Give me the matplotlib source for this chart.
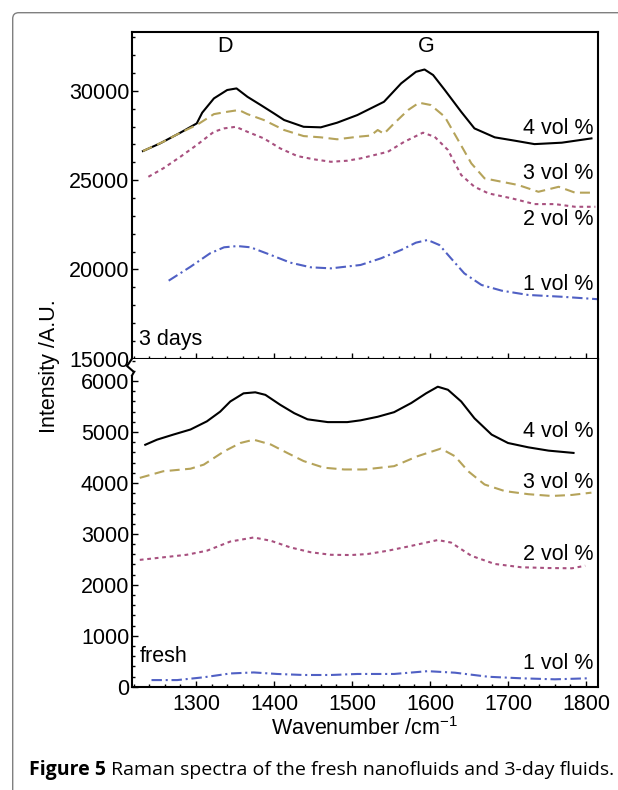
import numpy as np
import matplotlib
matplotlib.use("Agg")
import matplotlib.pyplot as plt
from matplotlib.patches import FancyBboxPatch
from matplotlib.lines import Line2D
from matplotlib.ticker import MultipleLocator

plt.rcParams['font.family'] = ['Liberation Sans', 'DejaVu Sans']
plt.rcParams['mathtext.default'] = 'regular'

# ---- 3 days (top panel) ----
d3_x4 = [1232, 1254, 1280, 1301, 1308, 1323, 1340, 1352, 1366, 1383, 1400, 1413, 1438, 1460, 1481,
         1507, 1524, 1541, 1563, 1582, 1593, 1604, 1619, 1640, 1657, 1683, 1709, 1734, 1769, 1807]
d3_y4 = [26630, 27060, 27660, 28180, 28780, 29580, 30050, 30140, 29670, 29210, 28740, 28370, 27990, 27960, 28220,
         28650, 29020, 29390, 30420, 31070, 31200, 30890, 30050, 28830, 27900, 27400, 27210, 27020, 27100, 27340]

d3_x3 = [1232, 1258, 1280, 1301, 1323, 1340, 1355, 1366, 1387, 1413, 1438, 1460, 1481, 1507, 1524,
         1533, 1541, 1554, 1572, 1586, 1601, 1619, 1636, 1653, 1670, 1692, 1713, 1739, 1765, 1786, 1812]
d3_y3 = [26630, 27150, 27660, 28090, 28700, 28830, 28930, 28700, 28370, 27810, 27470, 27400, 27290, 27430, 27500,
         27810, 27600, 28180, 28930, 29340, 29210, 28550, 27250, 25940, 25100, 24910, 24730, 24350, 24630, 24300, 24300]

d3_x2 = [1239, 1258, 1280, 1301, 1323, 1336, 1351, 1366, 1387, 1408, 1430, 1451, 1473, 1494, 1511,
         1546, 1567, 1591, 1606, 1623, 1640, 1657, 1675, 1705, 1734, 1760, 1786, 1812]
d3_y2 = [25190, 25660, 26310, 26970, 27710, 27900, 27990, 27710, 27340, 26780, 26350, 26170, 26030, 26090, 26220,
         26590, 27150, 27660, 27430, 26690, 25290, 24630, 24260, 23980, 23660, 23660, 23510, 23510]

d3_x1 = [1265, 1293, 1318, 1336, 1353, 1370, 1396, 1421, 1447, 1473, 1499, 1511, 1537, 1563, 1582,
         1597, 1612, 1627, 1644, 1666, 1692, 1726, 1769, 1816]
d3_y1 = [19370, 20150, 20900, 21240, 21310, 21240, 20810, 20380, 20120, 20060, 20190, 20250, 20620, 21090, 21500,
         21650, 21370, 20620, 19780, 19130, 18810, 18570, 18470, 18330]

# ---- fresh (bottom panel) ----
fr_x4 = [1235, 1250, 1271, 1293, 1314, 1331, 1344, 1361, 1376, 1389, 1408, 1426, 1443, 1469, 1494,
         1511, 1533, 1554, 1576, 1595, 1610, 1623, 1640, 1657, 1679, 1700, 1726, 1752, 1784]
fr_y4 = [4750, 4850, 4950, 5050, 5210, 5400, 5600, 5760, 5780, 5730, 5535, 5370, 5250, 5195, 5195,
         5230, 5300, 5390, 5570, 5760, 5890, 5830, 5600, 5270, 4950, 4785, 4700, 4635, 4590]

fr_x3 = [1228, 1258, 1293, 1310, 1336, 1357, 1374, 1396, 1417, 1438, 1464, 1490, 1516,
         1554, 1584, 1614, 1632, 1649, 1670, 1696, 1726, 1756, 1782, 1807]
fr_y3 = [4100, 4230, 4280, 4360, 4620, 4785, 4850, 4755, 4590, 4430, 4300, 4265, 4265,
         4330, 4525, 4675, 4525, 4230, 3970, 3840, 3780, 3745, 3765, 3810]

fr_x2 = [1228, 1258, 1288, 1314, 1344, 1374, 1396, 1421, 1447, 1473, 1499, 1520,
         1546, 1576, 1610, 1627, 1653, 1683, 1717, 1752, 1782, 1799]
fr_y2 = [2490, 2540, 2590, 2670, 2850, 2930, 2865, 2735, 2640, 2590, 2585, 2605,
         2670, 2765, 2880, 2830, 2570, 2410, 2345, 2330, 2325, 2375]

fr_x1 = [1243, 1276, 1310, 1344, 1374, 1404, 1438, 1473, 1507, 1554, 1597, 1632, 1675, 1717, 1760, 1803]
fr_y1 = [130, 130, 185, 260, 280, 250, 230, 230, 250, 250, 305, 275, 195, 165, 145, 165]

labels = ["4 vol %", "3 vol %", "2 vol %", "1 vol %"]
d3_label_y = [27900, 25380, 22770, 19130]
fr_label_y = [5010, 4000, 2600, 460]

colors = ["black", "#b5a35a", "#a8507f", "#5060c4"]
styles = ["-", (0, (4.8, 2.6)), (0, (1.8, 1.8)), (0, (5, 1.8, 1, 1.8))]

W, H = 618, 790
fig = plt.figure(figsize=(W / 100, H / 100), dpi=100)

L, R = 132 / W, 597.7 / W
top_bot = 1 - 358.7 / H
ax1 = fig.add_axes([L, top_bot, R - L, (358.7 - 32) / H])
ax2 = fig.add_axes([L, 1 - 686.7 / H, R - L, (686.7 - 358.7) / H])

for ax, series, lab_y in [(ax1, [(d3_x4, d3_y4), (d3_x3, d3_y3), (d3_x2, d3_y2), (d3_x1, d3_y1)], d3_label_y),
                          (ax2, [(fr_x4, fr_y4), (fr_x3, fr_y3), (fr_x2, fr_y2), (fr_x1, fr_y1)], fr_label_y)]:
    for (xs, ys), c, ls, lab, ly in zip(series, colors, styles, labels, lab_y):
        ax.plot(xs, ys, color=c, ls=ls, lw=1.5)
        ax.text(1809, ly, lab, ha="right", va="center", fontsize=15.5)
    ax.set_xlim(1218, 1815)
    ax.xaxis.set_major_locator(MultipleLocator(100))
    ax.xaxis.set_minor_locator(MultipleLocator(20))
    for s in ax.spines.values():
        s.set_linewidth(1.5)
    ax.tick_params(which="both", direction="in", top=False, right=False,
                   labelsize=15.5, pad=3, width=1)
    ax.tick_params(which="major", length=4)
    ax.tick_params(which="minor", length=2.2)

ax1.set_ylim(15000, 33300)
ax1.yaxis.set_major_locator(MultipleLocator(5000))
ax1.yaxis.set_minor_locator(MultipleLocator(1000))
ax1.tick_params(axis="x", labelbottom=False)
ax1.tick_params(axis="y", pad=2)
ax1.text(1227, 16050, "3 days", ha="left", va="center", fontsize=15.5)
ax1.text(1337, 32500, "D", ha="center", va="center", fontsize=15.5)
ax1.text(1595, 32500, "G", ha="center", va="center", fontsize=15.5)

ax2.set_ylim(0, 6440)
ax2.yaxis.set_major_locator(MultipleLocator(1000))
ax2.yaxis.set_minor_locator(MultipleLocator(200))
ax2.spines["top"].set_visible(False)
ax2.spines["left"].set_bounds(0, 6090)
ax2.tick_params(axis="y", pad=2)
ax2.tick_params(axis="x", pad=5)
ax2.text(1228, 600, "fresh", ha="left", va="center", fontsize=15.5)

# axis break squiggle on the left spine
bx = np.array([132, 127, 134, 132]) / W
by = 1 - np.array([358.7, 366, 372, 375.5]) / H
fig.add_artist(Line2D(bx, by, color="black", lw=1.5, transform=fig.transFigure))

fig.text(50 / W, 1 - 366 / H, "Intensity /A.U.", rotation=90, ha="center", va="center", fontsize=15.5)
fig.text(365 / W, 1 - 729 / H, "Wavenumber /cm$^{-1}$", ha="center", va="center", fontsize=15.5)

# figure frame
frame = FancyBboxPatch((0.127, -1.0), 8.0, 8.773, boxstyle="round,pad=0,rounding_size=0.06",
                       transform=fig.dpi_scale_trans, fill=False, edgecolor="#808080", lw=1)
fig.add_artist(frame)

cap1 = fig.text(29 / W, 1 - 770 / H, "Figure 5", ha="left", va="center",
                fontsize=14, fontweight="bold", family="Open Sans")
fig.canvas.draw()
bb = cap1.get_window_extent()
fig.text(bb.x1 / W, 1 - 770 / H, " Raman spectra of the fresh nanofluids and 3-day fluids.",
         ha="left", va="center", fontsize=14, family="Open Sans")

fig.savefig("out.png", dpi=100)
